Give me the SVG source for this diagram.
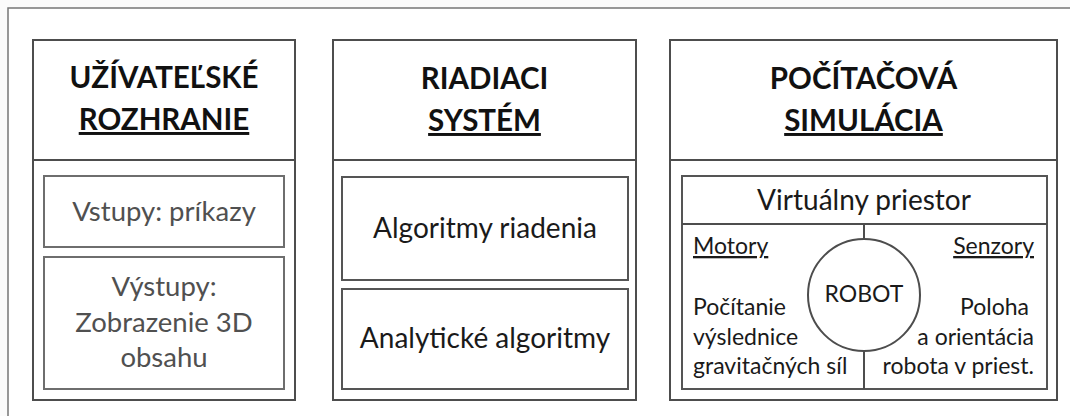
<svg xmlns="http://www.w3.org/2000/svg" width="1070" height="416" viewBox="0 0 1070 416">
<style>
  text { font-family: Lato, "Open Sans", "Liberation Sans", sans-serif; }
  .col { fill: #ffffff; stroke: #4d4d4d; stroke-width: 2; }
  .div { stroke: #4d4d4d; stroke-width: 2; fill: none; }
  .inner { fill: #ffffff; stroke: #555555; stroke-width: 2; }
  .inner1 { fill: #ffffff; stroke: #6e6e6e; stroke-width: 2; }
  .title { font-size: 29.5px; font-weight: bold; fill: #111111; text-anchor: middle; }
  .u { text-decoration: underline; }
  .t1 { font-size: 27.5px; fill: #505050; text-anchor: middle; }
  .t2 { font-size: 28px; fill: #1a1a1a; text-anchor: middle; }
  .t3 { font-size: 23px; fill: #1a1a1a; }
</style>
<rect x="0" y="0" width="1070" height="416" fill="#fbfbfb"/>
<rect x="8" y="8" width="1080" height="420" fill="#ffffff" stroke="#777777" stroke-width="1.5"/>

<g id="uzivatelske-rozhranie">
  <rect class="col" x="33" y="40" width="262" height="360"/>
  <line class="div" x1="33" y1="160" x2="295" y2="160"/>
  <text class="title" x="164" y="88">UŽÍVATEĽSKÉ</text>
  <text class="title u" x="164" y="130">ROZHRANIE</text>
  <g id="vstupy">
    <rect class="inner1" x="44" y="176" width="240" height="71"/>
    <text class="t1" x="164" y="221">Vstupy: príkazy</text>
  </g>
  <g id="vystupy">
    <rect class="inner1" x="44" y="257" width="240" height="132"/>
    <text class="t1" x="164" y="296">Výstupy:</text>
    <text class="t1" x="164" y="332">Zobrazenie 3D</text>
    <text class="t1" x="164" y="367">obsahu</text>
  </g>
</g>

<g id="riadiaci-system">
  <rect class="col" x="333" y="40" width="303" height="360"/>
  <line class="div" x1="333" y1="160" x2="636" y2="160"/>
  <text class="title" x="484.5" y="89">RIADIACI</text>
  <text class="title u" x="484.5" y="131">SYSTÉM</text>
  <g id="algoritmy-riadenia">
    <rect class="inner" x="342" y="177" width="286" height="103"/>
    <text class="t2" x="485" y="238">Algoritmy riadenia</text>
  </g>
  <g id="analyticke-algoritmy">
    <rect class="inner" x="342" y="289" width="286" height="100"/>
    <text class="t2" x="485" y="348">Analytické algoritmy</text>
  </g>
</g>

<g id="pocitacova-simulacia">
  <rect class="col" x="670" y="40" width="387" height="360"/>
  <line class="div" x1="670" y1="160" x2="1057" y2="160"/>
  <text class="title" x="863.5" y="89">POČÍTAČOVÁ</text>
  <text class="title u" x="863.5" y="131">SIMULÁCIA</text>
  <g id="virtualny-priestor">
    <rect class="inner" x="682" y="176" width="365" height="213"/>
    <line class="div" x1="682" y1="224" x2="1047" y2="224"/>
    <text class="t2" x="864" y="210">Virtuálny priestor</text>
  </g>
  <g id="motory">
    <text class="t3 u" x="693" y="254">Motory</text>
    <text class="t3" x="693" y="315">Počítanie</text>
    <text class="t3" x="693" y="345">výslednice</text>
    <text class="t3" x="693" y="374">gravitačných síl</text>
  </g>
  <g id="senzory">
    <text class="t3 u" x="1034" y="254" text-anchor="end">Senzory</text>
    <text class="t3" x="1029" y="315" text-anchor="end">Poloha</text>
    <text class="t3" x="1034" y="345" text-anchor="end">a orientácia</text>
    <text class="t3" x="1034" y="374" text-anchor="end">robota v priest.</text>
  </g>
  <g id="robot">
    <circle cx="864" cy="295" r="56" fill="#ffffff" stroke="#4d4d4d" stroke-width="2"/>
    <text class="t3" x="864" y="302" text-anchor="middle">ROBOT</text>
  </g>
</g>

<g id="connectors">
  <line class="div" x1="864" y1="224" x2="864" y2="239"/>
  <line class="div" x1="864" y1="351" x2="864" y2="389"/>
</g>
</svg>
